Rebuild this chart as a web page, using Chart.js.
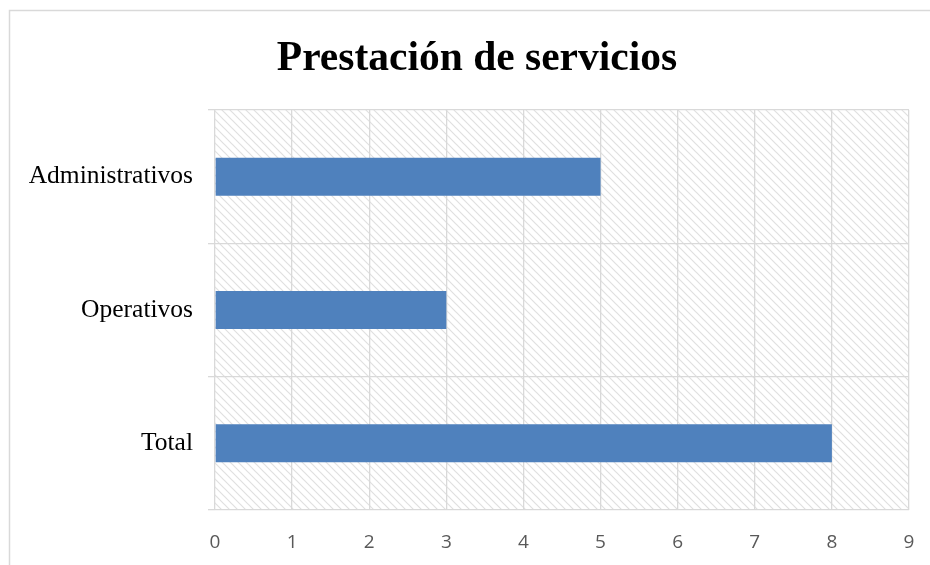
<!DOCTYPE html>
<html>
<head>
  <meta charset="UTF-8">
  <title>Prestación de servicios</title>
  <script src="https://cdn.jsdelivr.net/npm/chart.js"></script>
  <style>
    html, body { margin: 0; padding: 0; background: #fff; }
    #wrap { width: 930px; height: 565px; position: relative; }
  </style>
</head>
<body>
  <div id="wrap"><canvas id="barChart"></canvas></div>
  <script>
    // datos
    const categorias = ['Administrativos', 'Operativos', 'Total'];
    const valores = [5, 3, 8];
    const ticksX = [0, 1, 2, 3, 4, 5, 6, 7, 8, 9];
    const titulo = 'Prestación de servicios';

    // trama diagonal del fondo
    function crearTrama(ctx) {
      const c = document.createElement('canvas');
      c.width = 8; c.height = 8;
      const p = c.getContext('2d');
      p.fillStyle = '#fff';
      p.fillRect(0, 0, 8, 8);
      p.strokeStyle = '#e0e0e0';
      p.lineWidth = 1.2;
      p.beginPath();
      p.moveTo(-1, -1); p.lineTo(9, 9);
      p.moveTo(-1, 7); p.lineTo(1, 9);
      p.moveTo(7, -1); p.lineTo(9, 1);
      p.stroke();
      return ctx.createPattern(c, 'repeat');
    }

    const fondo = {
      id: 'fondo',
      beforeDraw(chart) {
        const ctx = chart.ctx;
        const a = chart.chartArea;
        ctx.save();
        // marco exterior
        ctx.strokeStyle = '#d9d9d9';
        ctx.lineWidth = 1.5;
        ctx.strokeRect(9.5, 10.5, 940, 580);
        // área de trazado con trama
        ctx.fillStyle = crearTrama(ctx);
        ctx.fillRect(a.left, a.top, a.right - a.left, a.bottom - a.top);
        // título
        ctx.fillStyle = '#000';
        ctx.font = 'bold 41.5px "Liberation Serif", "Times New Roman", serif';
        ctx.textAlign = 'center';
        ctx.textBaseline = 'alphabetic';
        ctx.fillText(titulo, 477, 70);
        ctx.restore();
      }
    };

    new Chart(document.getElementById('barChart'), {
      type: 'bar',
      data: {
        labels: categorias,
        datasets: [{
          data: valores,
          backgroundColor: '#4f81bd',
          borderWidth: 0,
          barPercentage: 0.57,
          categoryPercentage: 0.5
        }]
      },
      plugins: [fondo],
      options: {
        indexAxis: 'y',
        responsive: true,
        maintainAspectRatio: false,
        animation: false,
        layout: { padding: { top: 110, right: 21, left: 0, bottom: 0 } },
        plugins: {
          legend: { display: false },
          title: { display: false },
          tooltip: { enabled: false }
        },
        scales: {
          x: {
            min: 0,
            max: 9,
            afterBuildTicks(axis) { axis.ticks = ticksX.map(v => ({ value: v })); },
            afterFit(axis) {
              axis.height = 55;
              axis.paddingLeft = 0;
              axis.paddingRight = 0;
            },
            grid: { color: '#d9d9d9', lineWidth: 1.3, drawTicks: false },
            border: { display: false },
            ticks: {
              padding: 21,
              color: '#595959',
              font: { family: '"Open Sans", sans-serif', size: 19 }
            }
          },
          y: {
            afterFit(axis) { axis.width = 215; },
            grid: { color: '#d9d9d9', lineWidth: 1.3, offset: true, tickLength: 7 },
            border: { display: false },
            ticks: {
              padding: 15,
              color: '#000',
              font: { family: '"Liberation Serif", "Times New Roman", serif', size: 25.5 }
            }
          }
        }
      }
    });
  </script>
</body>
</html>
